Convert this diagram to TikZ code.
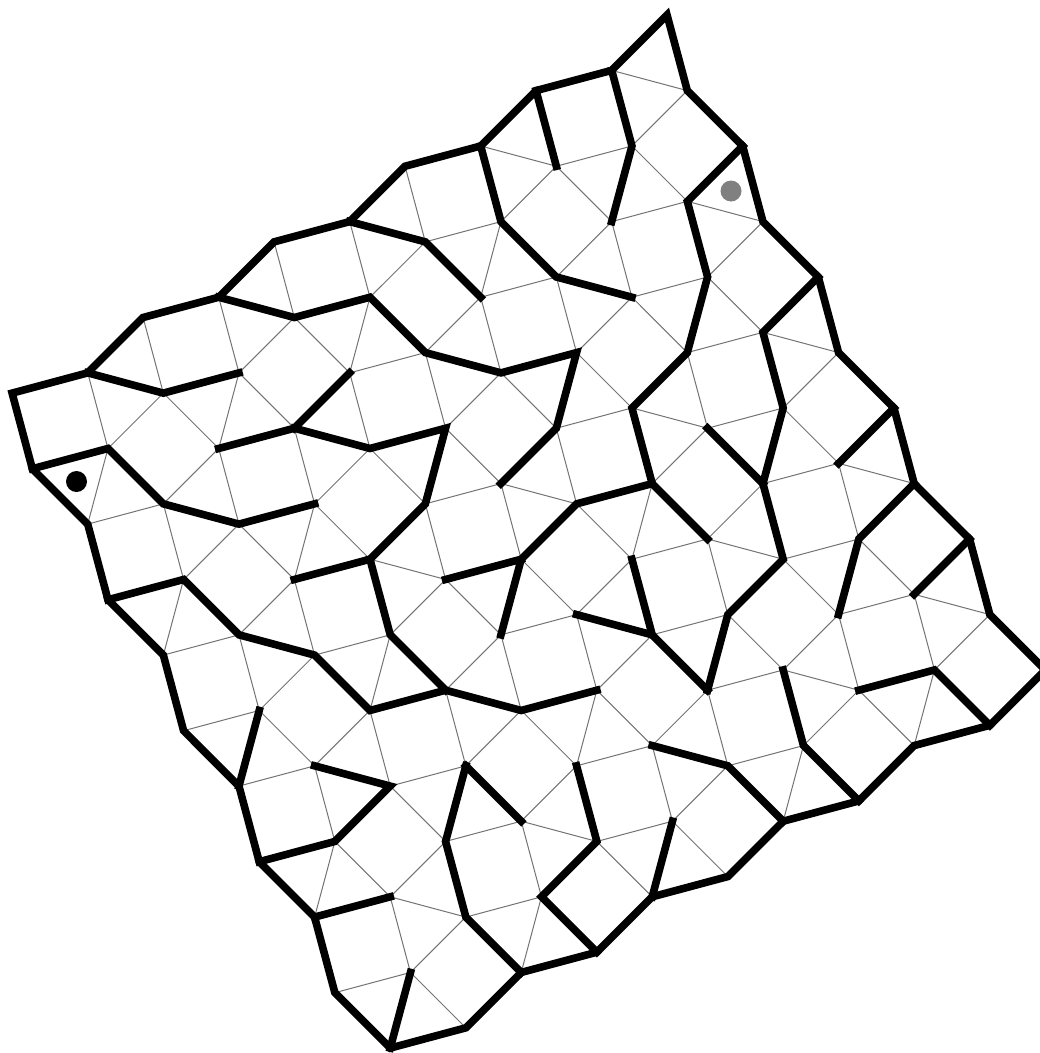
\documentclass[tikz,border=0pt]{standalone}
\begin{document}
\begin{tikzpicture}[x=1pt,y=1pt,
  wall/.style={line width=7.6pt, line join=miter, line cap=rect, black},
  tile/.style={line width=1pt, black!55},
  lattice/.style={shift={(362.54pt,-944.76pt)}, x={(130.99pt,75.625pt)}, y={(-75.625pt,130.99pt)}}]
\useasboundingbox (0,0) rectangle (1040,-1053);
% vertices: corner k of square A(i,j)
\begin{scope}[lattice]
\foreach \ia/\na in {-1/m,0/0,1/1,2/2,3/3,4/4,5/5}{
  \foreach \jb/\nb in {-1/m,0/0,1/1,2/2,3/3,4/4,5/5}{
    \coordinate (v\na x\nb k0) at (\ia+0.31699,\jb+0.18301);
    \coordinate (v\na x\nb k1) at (\ia-0.18301,\jb+0.31699);
    \coordinate (v\na x\nb k2) at (\ia-0.31699,\jb-0.18301);
    \coordinate (v\na x\nb k3) at (\ia+0.18301,\jb-0.31699);
  }}
\end{scope}
% thin tiling, clipped to the maze outline
\begin{scope}
\clip (v5x4k1) -- (v5x4k2) -- (v5x3k1) -- (v5x3k2) -- (v5x2k1) -- (v5x2k2) -- (v5x1k1) -- (v5x1k2) -- (v5x0k1) -- (v5x0k2) -- (v5xmk1)
  -- (v4xmk0) -- (v4xmk1) -- (v3xmk0) -- (v3xmk1) -- (v2xmk0) -- (v2xmk1) -- (v1xmk0) -- (v1xmk1) -- (v0xmk0) -- (v0xmk1)
  -- (v0x0k2) -- (v0x0k1) -- (v0x1k2) -- (v0x1k1) -- (v0x2k2) -- (v0x2k1) -- (v0x3k2) -- (v0x3k1) -- (v0x4k2) -- (v0x4k1)
  -- (v0x4k0) -- (v1x4k1) -- (v1x4k0) -- (v2x4k1) -- (v2x4k0) -- (v3x4k1) -- (v3x4k0) -- (v4x4k1) -- (v4x4k0) -- cycle;
\begin{scope}[lattice]
\foreach \ia in {-1,...,5}{
  \foreach \jb in {-1,...,5}{
    \draw[tile] (\ia+0.31699,\jb+0.18301) -- (\ia-0.18301,\jb+0.31699) -- (\ia-0.31699,\jb-0.18301) -- (\ia+0.18301,\jb-0.31699) -- cycle;
    \draw[tile] (\ia+0.68301,\jb+0.81699) -- (\ia+0.18301,\jb+0.68301) -- (\ia+0.31699,\jb+0.18301) -- (\ia+0.81699,\jb+0.31699) -- cycle;
    \draw[tile] (\ia+0.31699,\jb+0.18301) -- (\ia+0.68301,\jb-0.18301);
    \draw[tile] (\ia-0.18301,\jb+0.31699) -- (\ia+0.18301,\jb+0.68301);
  }}
\end{scope}
\end{scope}
% outline
\draw[wall] (v5x4k1) -- (v5x4k2) -- (v5x3k1) -- (v5x3k2) -- (v5x2k1) -- (v5x2k2) -- (v5x1k1) -- (v5x1k2) -- (v5x0k1) -- (v5x0k2) -- (v5xmk1)
  -- (v4xmk0) -- (v4xmk1) -- (v3xmk0) -- (v3xmk1) -- (v2xmk0) -- (v2xmk1) -- (v1xmk0) -- (v1xmk1) -- (v0xmk0) -- (v0xmk1)
  -- (v0x0k2) -- (v0x0k1) -- (v0x1k2) -- (v0x1k1) -- (v0x2k2) -- (v0x2k1) -- (v0x3k2) -- (v0x3k1) -- (v0x4k2) -- (v0x4k1)
  -- (v0x4k0) -- (v1x4k1) -- (v1x4k0) -- (v2x4k1) -- (v2x4k0) -- (v3x4k1) -- (v3x4k0) -- (v4x4k1) -- (v4x4k0) -- cycle;
% inner walls
\draw[wall] (v4x4k1) -- (v4x4k2);
\draw[wall] (v4x4k0) -- (v4x4k3) -- (v4x3k1);
\draw[wall] (v3x4k0) -- (v3x4k3) -- (v3x3k0) -- (v4x3k2);
\draw[wall] (v2x4k0) -- (v3x4k2) -- (v3x3k1);
\draw[wall] (v1x4k0) -- (v2x4k2) -- (v2x4k3) -- (v2x3k0) -- (v3x3k2) -- (v3x3k3) -- (v3x2k1) -- (v2x2k0);
\draw[wall] (v5x3k1) -- (v4x3k0) -- (v4x3k3) -- (v4x2k1) -- (v3x2k0) -- (v3x2k3) -- (v3x1k0);
\draw[wall] (v3x2k3) -- (v3x2k2) -- (v2x2k3) -- (v2x1k1);
\draw[wall] (v2x2k2) -- (v2x2k3);
\draw[wall] (v5x2k1) -- (v4x2k0) -- (v4x2k3) -- (v4x1k1) -- (v4x1k2) -- (v3x1k3) -- (v3x0k1);
\draw[wall] (v4x2k2) -- (v4x1k1);
\draw[wall] (v5x1k1) -- (v4x1k0);
\draw[wall] (v5x1k2) -- (v4x1k3) -- (v4x0k1);
\draw[wall] (v5x0k1) -- (v4x0k0);
\draw[wall] (v4x0k2) -- (v4x0k3) -- (v4xmk0);
\draw[wall] (v3x0k0) -- (v3x0k3) -- (v3xmk0);
\draw[wall] (v2x0k0) -- (v3x0k2) -- (v3xmk1);
\draw[wall] (v2xmk1) -- (v2x0k3);
\draw[wall] (v2x0k1) -- (v2x0k2) -- (v1x0k3) -- (v1xmk0);
\draw[wall] (v1x1k3) -- (v1x0k0);
\draw[wall] (v1x1k3) -- (v1x0k1) -- (v1x0k2) -- (v1xmk1);
\draw[wall] (v0xmk1) -- (v0x0k3);
\draw[wall] (v0x0k1) -- (v0x0k0);
\draw[wall] (v0x1k0) -- (v1x1k2) -- (v0x1k3) -- (v0x1k2);
\draw[wall] (v0x2k3) -- (v0x1k1);
\draw[wall] (v0x3k2) -- (v0x3k3) -- (v0x2k0) -- (v1x2k2) -- (v1x1k1) -- (v1x1k0) -- (v2x1k2) -- (v2x1k3);
\draw[wall] (v1x2k0) -- (v1x2k3) -- (v1x1k0);
\draw[wall] (v1x3k0) -- (v2x3k2) -- (v2x3k3) -- (v2x2k1) -- (v1x2k0) -- (v1x2k1);
\draw[wall] (v2x3k1) -- (v1x3k0);
\draw[wall] (v1x3k1) -- (v1x3k0);
\draw[wall] (v0x4k2) -- (v0x4k3) -- (v0x3k0) -- (v1x3k2) -- (v1x3k3);
\draw[wall] (v0x4k0) -- (v1x4k2) -- (v1x4k3);
\draw[wall] (v3x1k1) -- (v3x1k2) -- (v2x1k0);
\draw[wall] (v3x1k2) -- (v3x0k1);
% start and goal markers
\node[circle, fill=black, minimum size=21pt, inner sep=0pt] (start) at (76.5,-481.5) {};
\node[circle, fill=black!50, minimum size=21pt, inner sep=0pt] (goal) at (731,-191) {};
\end{tikzpicture}
\end{document}
